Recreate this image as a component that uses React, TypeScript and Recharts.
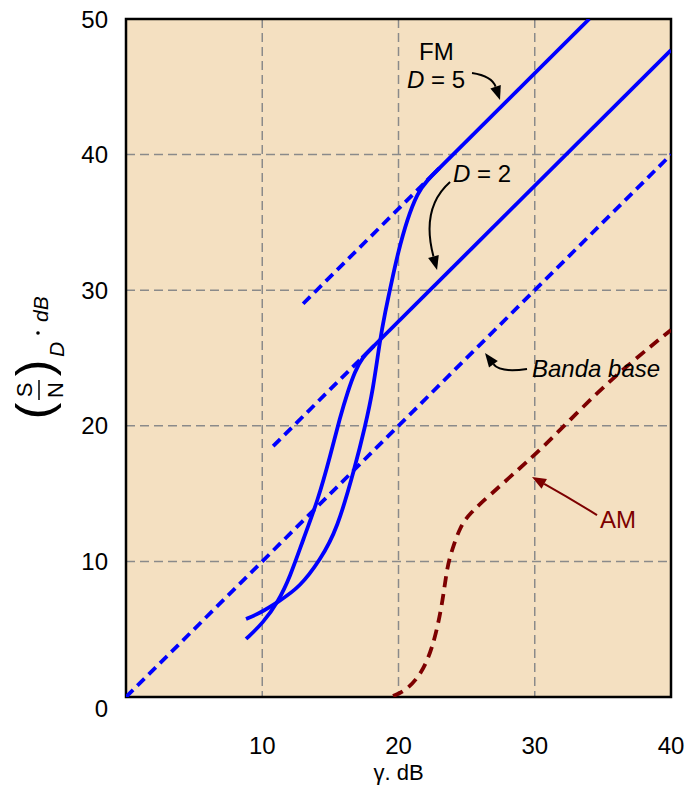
import React from 'react';
import { LineChart, Line, XAxis, YAxis, CartesianGrid, ReferenceArea, ReferenceDot } from 'recharts';

// axis ticks
const xTicks = [10, 20, 30, 40];
const yTicks = [0, 10, 20, 30, 40, 50];

// series (gamma dB -> S/N dB)
const bandaBase = [{ x: 0, y: 0 }, { x: 40, y: 40 }];

const fm5Threshold = [
  { x: 8.81, y: 5.75 }, { x: 9.83, y: 6.19 }, { x: 11.16, y: 7.01 }, { x: 12.77, y: 8.11 },
  { x: 14.24, y: 10.1 }, { x: 15.49, y: 12.32 }, { x: 16.81, y: 16.96 }, { x: 17.54, y: 19.91 },
  { x: 18.13, y: 22.64 }, { x: 18.64, y: 26.33 }, { x: 19.01, y: 28.32 }, { x: 19.52, y: 30.75 },
  { x: 19.96, y: 32.74 }, { x: 20.62, y: 35.18 }, { x: 21.4, y: 37.2 }, { x: 22.1, y: 38.1 },
  { x: 23.0, y: 39.0 },
];
const fm5Line = [{ x: 22.1, y: 38.1 }, { x: 34.0, y: 50 }];
const fm5Dashed = [{ x: 13, y: 29 }, { x: 22.1, y: 38.1 }];

const fm2Threshold = [
  { x: 8.81, y: 4.28 }, { x: 10.06, y: 5.46 }, { x: 11.16, y: 7.01 }, { x: 12.04, y: 8.85 },
  { x: 12.99, y: 11.58 }, { x: 14.09, y: 14.53 }, { x: 14.97, y: 17.7 }, { x: 15.71, y: 20.65 },
  { x: 16.3, y: 22.6 }, { x: 16.8, y: 24.0 }, { x: 17.32, y: 25.02 }, { x: 18.2, y: 25.9 },
];
const fm2Line = [{ x: 17.32, y: 25.02 }, { x: 40, y: 47.7 }];
const fm2Dashed = [{ x: 10.8, y: 18.5 }, { x: 17.32, y: 25.02 }];

const amCurve = [
  { x: 19.6, y: 0.07 }, { x: 20.62, y: 0.52 }, { x: 21.72, y: 1.77 }, { x: 22.53, y: 3.69 },
  { x: 23.19, y: 6.64 }, { x: 23.56, y: 9.59 }, { x: 23.93, y: 10.84 }, { x: 24.51, y: 12.54 },
  { x: 25.25, y: 13.57 }, { x: 26.72, y: 14.9 }, { x: 28.92, y: 16.89 }, { x: 30.39, y: 18.22 },
  { x: 32.37, y: 20.21 }, { x: 35.74, y: 23.6 }, { x: 40, y: 27.07 },
];

// annotation arrow tips
const fm5Tip = { x: 27.45, y: 44.03 };
const fm2Tip = { x: 22.83, y: 31.49 };
const baseTip = { x: 26.35, y: 25.37 };
const amTip = { x: 29.8, y: 16.22 };

const FONT = '"Liberation Sans", Arial, sans-serif';
const BLUE = '#0000ff';
const MAROON = '#7d0000';
const LW = 3.8;

// quadratic arrow ending at (cx,cy); from/ctrl relative to tip
const Arrow = ({ cx, cy, from, ctrl, color }: any) => {
  const ang = Math.atan2(-ctrl[1], -ctrl[0]);
  const len = 14;
  const w = 5.5;
  const bx = -len * Math.cos(ang);
  const by = -len * Math.sin(ang);
  const nx = -Math.sin(ang) * w;
  const ny = Math.cos(ang) * w;
  return (
    <g transform={`translate(${cx},${cy})`}>
      <path d={`M${from[0]},${from[1]} Q${ctrl[0]},${ctrl[1]} ${bx},${by}`} fill="none" stroke={color} strokeWidth={2} />
      <path d={`M0,0 L${bx + nx},${by + ny} L${bx - nx},${by - ny} Z`} fill={color} />
    </g>
  );
};

const YTick = ({ x, y, payload }: any) => (
  <text x={x} y={payload.value === 0 ? y + 11 : y} textAnchor="end" dominantBaseline="central"
    fontFamily={FONT} fontSize={24} fill="#000">
    {payload.value}
  </text>
);

const XTick = ({ x, y, payload }: any) => (
  <text x={x} y={y} textAnchor="middle" dominantBaseline="central" fontFamily={FONT} fontSize={24} fill="#000">
    {payload.value}
  </text>
);

const YLabel = () => (
  <g transform="translate(38,355) rotate(-90)" fontFamily={FONT} fill="#000">
    <text x={-56} y={13} fontSize={50} textAnchor="middle">(</text>
    <text x={-35} y={-6} fontSize={22} textAnchor="middle">S</text>
    <line x1={-45} y1={1} x2={-25} y2={1} stroke="#000" strokeWidth={1.5} />
    <text x={-35} y={25} fontSize={22} textAnchor="middle">N</text>
    <text x={-13} y={13} fontSize={50} textAnchor="middle">)</text>
    <text x={-2} y={26} fontSize={21} fontStyle="italic">D</text>
    <circle cx={22} cy={0} r={1.8} fill="#000" />
    <text x={33} y={10} fontSize={21} fontStyle="italic">dB</text>
  </g>
);

const XLabel = ({ viewBox }: any) => (
  <text x={viewBox.x + viewBox.width / 2} y={780} textAnchor="middle" fontFamily={FONT} fontSize={22} fill="#000">
    γ. dB
  </text>
);

export default function App() {
  return (
    <div style={{ position: 'absolute', left: 0, top: 0, background: '#fff' }}>
      <LineChart width={685} height={787} margin={{ top: 19, right: 14, left: 100, bottom: 30 }}>
        <CartesianGrid fill="#f4e0c1" stroke="#8a8a8a" strokeDasharray="9 5" strokeWidth={1.5} />
        <XAxis dataKey="x" type="number" domain={[0, 40]} ticks={xTicks} height={60} allowDataOverflow
          tickLine={false} axisLine={false} tickSize={0} tickMargin={48} tick={<XTick />}
          label={{ content: <XLabel /> }} />
        <YAxis dataKey="y" type="number" domain={[0, 50]} ticks={yTicks} width={26} allowDataOverflow
          tickLine={false} axisLine={false} tickSize={0} tickMargin={18} tick={<YTick />}
          label={{ content: <YLabel /> }} />
        <ReferenceArea x1={0} x2={40} y1={0} y2={50} fill="none" stroke="#000" strokeWidth={2.5} />

        <Line data={bandaBase} dataKey="y" type="linear" stroke={BLUE} strokeWidth={LW}
          strokeDasharray="10 6" dot={false} isAnimationActive={false} />
        <Line data={fm5Dashed} dataKey="y" type="linear" stroke={BLUE} strokeWidth={LW}
          strokeDasharray="10 6" dot={false} isAnimationActive={false} />
        <Line data={fm2Dashed} dataKey="y" type="linear" stroke={BLUE} strokeWidth={LW}
          strokeDasharray="10 6" dot={false} isAnimationActive={false} />
        <Line data={fm5Threshold} dataKey="y" type="basis" stroke={BLUE} strokeWidth={LW}
          dot={false} isAnimationActive={false} />
        <Line data={fm5Line} dataKey="y" type="linear" stroke={BLUE} strokeWidth={LW}
          dot={false} isAnimationActive={false} />
        <Line data={fm2Threshold} dataKey="y" type="basis" stroke={BLUE} strokeWidth={LW}
          dot={false} isAnimationActive={false} />
        <Line data={fm2Line} dataKey="y" type="linear" stroke={BLUE} strokeWidth={LW}
          dot={false} isAnimationActive={false} />
        <Line data={amCurve} dataKey="y" type="basis" stroke={MAROON} strokeWidth={LW}
          strokeDasharray="11 7" dot={false} isAnimationActive={false} />

        <ReferenceDot x={fm5Tip.x} y={fm5Tip.y} r={0} shape={(p: any) => (
          <g fontFamily={FONT} fontSize={24} fill="#000">
            <text x={p.cx - 81} y={p.cy - 40}>FM</text>
            <text x={p.cx - 93} y={p.cy - 12}><tspan fontStyle="italic">D</tspan> = 5</text>
            <Arrow cx={p.cx} cy={p.cy} from={[-28, -27]} ctrl={[-8, -24]} color="#000" />
          </g>
        )} />
        <ReferenceDot x={fm2Tip.x} y={fm2Tip.y} r={0} shape={(p: any) => (
          <g fontFamily={FONT} fontSize={24} fill="#000">
            <text x={p.cx + 16} y={p.cy - 88}><tspan fontStyle="italic">D</tspan> = 2</text>
            <Arrow cx={p.cx} cy={p.cy} from={[13, -88]} ctrl={[-16.5, -62]} color="#000" />
          </g>
        )} />
        <ReferenceDot x={baseTip.x} y={baseTip.y} r={0} shape={(p: any) => (
          <g fontFamily={FONT} fontSize={24} fill="#000">
            <text x={p.cx + 47} y={p.cy + 24} fontStyle="italic">Banda base</text>
            <Arrow cx={p.cx} cy={p.cy} from={[42, 16]} ctrl={[15, 20]} color="#000" />
          </g>
        )} />
        <ReferenceDot x={amTip.x} y={amTip.y} r={0} shape={(p: any) => (
          <g fontFamily={FONT} fontSize={24} fill={MAROON}>
            <text x={p.cx + 68} y={p.cy + 51}>AM</text>
            <Arrow cx={p.cx} cy={p.cy} from={[65, 38]} ctrl={[37.5, 21]} color={MAROON} />
          </g>
        )} />
      </LineChart>
    </div>
  );
}
